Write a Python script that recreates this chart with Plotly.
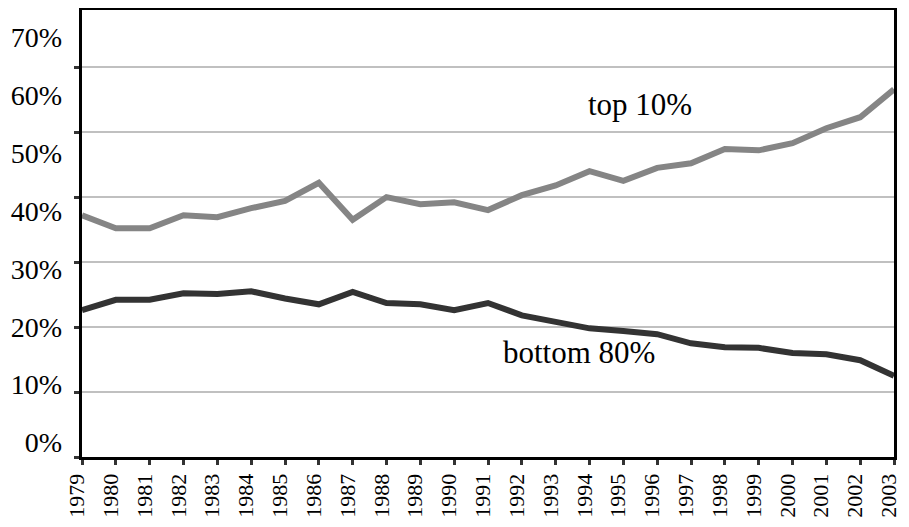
import plotly.graph_objects as go

# years on the x axis
years = [str(y) for y in range(1979, 2004)]

# share of total (%)
top10 = [37.2, 35.2, 35.2, 37.2, 36.9, 38.3, 39.4, 42.2, 36.5, 40.0,
         38.9, 39.2, 38.0, 40.3, 41.8, 44.0, 42.5, 44.5, 45.2, 47.4,
         47.2, 48.3, 50.6, 52.3, 56.6]
bottom80 = [22.6, 24.2, 24.2, 25.2, 25.1, 25.5, 24.4, 23.5, 25.4, 23.7,
            23.5, 22.6, 23.7, 21.8, 20.8, 19.8, 19.4, 18.9, 17.5, 16.9,
            16.8, 16.0, 15.8, 14.9, 12.5]

y_ticks = [0, 10, 20, 30, 40, 50, 60, 70]
y_labels = ["0%", "10%", "20%", "30%", "40%", "50%", "60%", "70%"]

serif = "Liberation Serif, Times New Roman, serif"

fig = go.Figure()
fig.add_trace(go.Scatter(x=years, y=top10, mode="lines", name="top 10%",
                         line=dict(color="#858585", width=6)))
fig.add_trace(go.Scatter(x=years, y=bottom80, mode="lines", name="bottom 80%",
                         line=dict(color="#333333", width=6)))
# empty trace so the label axis (y2) gets drawn
fig.add_trace(go.Scatter(x=years, y=[None] * len(years), yaxis="y2",
                         showlegend=False, hoverinfo="skip"))

# in-chart labels instead of a legend
fig.add_annotation(x=16.5, y=54.3, text="top 10%", showarrow=False,
                   font=dict(family=serif, size=31, color="black"))
fig.add_annotation(x=14.7, y=16.1, text="bottom 80%", showarrow=False,
                   font=dict(family=serif, size=31, color="black"))

# page body has an 8px margin; keep the figure inside the window so no scrollbars show
fig.update_layout(
    width=893, height=511,
    margin=dict(l=74, r=7, t=2, b=62),
    paper_bgcolor="white", plot_bgcolor="white",
    showlegend=False,
)
fig.update_xaxes(
    type="category", range=[0, 24],
    showline=True, linecolor="black", linewidth=3, mirror=True,
    ticks="outside", ticklen=5, tickwidth=3, tickcolor="#333333",
    tickangle=-90, ticklabelshift=-5,
    tickfont=dict(family=serif, size=22, color="black"),
    showgrid=False, automargin=False,
)
# main y axis: gridlines and tick marks only
fig.update_yaxes(
    range=[0, 68.8], tickmode="array", tickvals=y_ticks,
    showticklabels=False,
    showline=True, linecolor="black", linewidth=3, mirror=True,
    ticks="outside", ticklen=5, tickwidth=3, tickcolor="#333333",
    showgrid=True, gridcolor="#c0c0c0", gridwidth=2,
    zeroline=False, automargin=False,
)
# label axis: in the original the percent labels are spaced a bit tighter
# than the gridlines, so they sit on their own overlaid axis
fig.update_layout(yaxis2=dict(
    overlaying="y", side="left", anchor="x",
    range=[-2.5, 74.75], tickmode="array", tickvals=y_ticks, ticktext=y_labels,
    ticks="", showline=False, showgrid=False, zeroline=False,
    ticklabelstandoff=19, ticklabeloverflow="allow",
    tickfont=dict(family=serif, size=28, color="black"),
    automargin=False,
))

fig.write_html("out.html")
